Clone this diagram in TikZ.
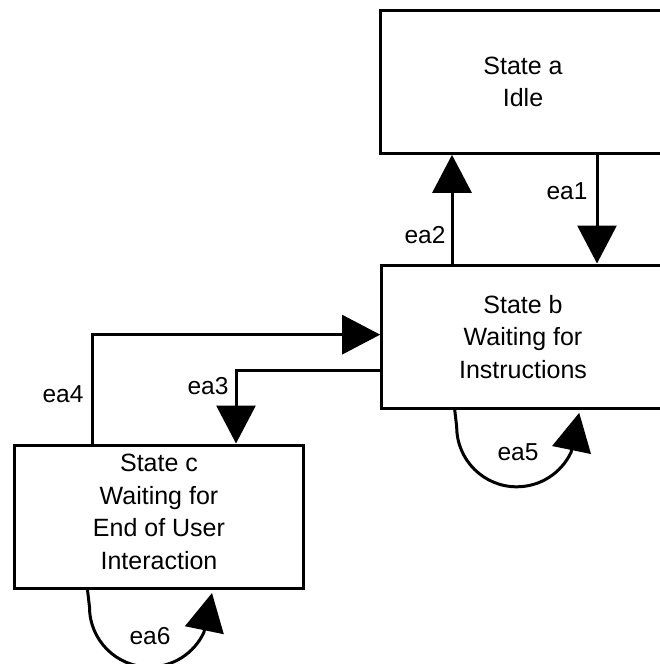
\documentclass[tikz,border=0pt]{standalone}
\usepackage{fontspec}
\setmainfont{Liberation Sans}
\usetikzlibrary{arrows.meta}
\begin{document}
\begin{tikzpicture}[x=1pt,y=-1pt,
  statebox/.style={draw,line width=3pt,rectangle,align=center,inner sep=0pt,
    font=\fontsize{25}{32.5}\selectfont},
  flow/.style={line width=3pt,-{Triangle[length=38pt,width=39pt]}},
  lbl/.style={inner sep=0pt,font=\fontsize{24.5}{29}\selectfont}]
\clip (0,0) rectangle (660,664);

% states
\node[statebox,minimum width=286pt,minimum height=143.3pt] (a) at (523,81.65) {State a\\Idle};
\node[statebox,minimum width=282.6pt,minimum height=143.3pt] (b) at (523,336.65) {State b\\Waiting for\\Instructions};
\node[statebox,minimum width=289pt,minimum height=143.5pt] (c) at (159,516.75) {State c\\Waiting for\\End of User\\Interaction\\[-22.5pt]};

% transitions between states
\draw[flow] ([xshift=74pt]a.south) -- ([xshift=74pt]b.north);
\draw[flow] ([xshift=-71pt]b.north) -- ([xshift=-71pt]a.south);
\draw[flow] ([xshift=-67pt]c.north) |- ([yshift=2pt]b.west);
\draw[flow] ([yshift=-33.4pt]b.west) -| ([xshift=77pt]c.north);

% self loops
\coordinate (s5) at ([xshift=74.5pt]b.south west);
\coordinate (t5) at ([xshift=199pt,yshift=-3pt]b.south west);
\coordinate (s6) at ([xshift=74.5pt]c.south west);
\coordinate (t6) at ([xshift=199pt,yshift=-3pt]c.south west);
\draw[flow] (s5) -- ++(2,17) .. controls +(0,33.1) and +(-33.1,0) .. ++(60,60)
  .. controls +(23.3,0) and +(-9.85,21.1) .. ++(54.4,-34.6) -- (t5);
\draw[flow] (s6) -- ++(2,17) .. controls +(0,33.1) and +(-33.1,0) .. ++(60,60)
  .. controls +(23.3,0) and +(-9.85,21.1) .. ++(54.4,-34.6) -- (t6);

% transition labels
\node[lbl] (l1) at (567,191) {ea1};
\node[lbl] (l2) at (425,235) {ea2};
\node[lbl] (l3) at (208,386) {ea3};
\node[lbl] (l4) at (63,394) {ea4};
\node[lbl] (l5) at (518,452) {ea5};
\node[lbl] (l6) at (150,636) {ea6};
\end{tikzpicture}
\end{document}
